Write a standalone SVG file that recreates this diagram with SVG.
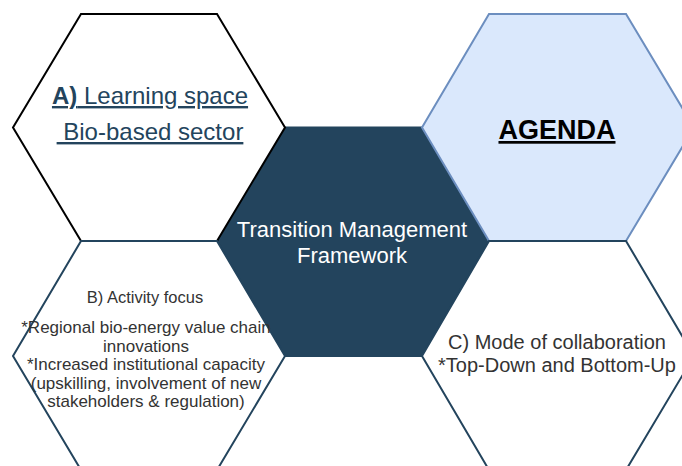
<svg xmlns="http://www.w3.org/2000/svg" width="682" height="466" viewBox="0 0 682 466">
<style>
.t{font-family:"Liberation Sans",Arial,Helvetica,sans-serif;text-anchor:middle}
.hexw{fill:#ffffff;stroke-width:2;stroke-linejoin:miter}
.b{font-size:17px;fill:#333333}
</style>
<rect width="682" height="466" fill="#ffffff"/>
<g id="connectors"></g>
<g id="center">
<polygon points="285,127.5 422,127.5 489,241 422,356 285,356 217,241" fill="#23445d" stroke="#23445d" stroke-width="2"/>
<text class="t" x="352" y="237" font-size="22" fill="#ffffff">Transition Management</text>
<text class="t" x="352" y="263" font-size="22" fill="#ffffff">Framework</text>
</g>
<g id="nodeA">
<polygon class="hexw" points="81,14 217,14 285,127.5 217,241 81,241 13,127.5" stroke="#000000" stroke-width="2.3"/>
<text class="t" x="150" y="104" font-size="24" fill="#23445d" text-decoration="underline"><tspan font-weight="bold">A)</tspan> Learning space</text>
<text class="t" x="150" y="140" font-size="24" fill="#23445d" text-decoration="underline" xml:space="preserve"> Bio-based sector</text>
</g>
<g id="agenda">
<polygon points="489,14 626,14 694,127.5 626,241 489,241 422,127.5" fill="#dae8fc" stroke="#6c8ebf" stroke-width="2"/>
<text class="t" x="557" y="139" font-size="27" font-weight="bold" fill="#000000" text-decoration="underline">AGENDA</text>
</g>
<g id="nodeB">
<polygon class="hexw" points="81,241 217,241 285,356 217,470 81,470 13,356" stroke="#23445d"/>
<text class="t" x="145" y="303" font-size="16.5" fill="#333333">B) Activity focus</text>
<text class="t b" x="146" y="333">*Regional bio-energy value chain</text>
<text class="t b" x="146" y="351.5">innovations</text>
<text class="t b" x="146" y="370">*Increased institutional capacity</text>
<text class="t b" x="146" y="388.5">(upskilling, involvement of new</text>
<text class="t b" x="146" y="407">stakeholders &amp; regulation)</text>
</g>
<g id="nodeC">
<polygon class="hexw" points="489,241 626,241 694,356 626,470 489,470 422,356" stroke="#23445d"/>
<text class="t" x="557" y="349" font-size="20" fill="#333333">C) Mode of collaboration</text>
<text class="t" x="557" y="372" font-size="20" fill="#333333">*Top-Down and Bottom-Up</text>
</g>
</svg>
